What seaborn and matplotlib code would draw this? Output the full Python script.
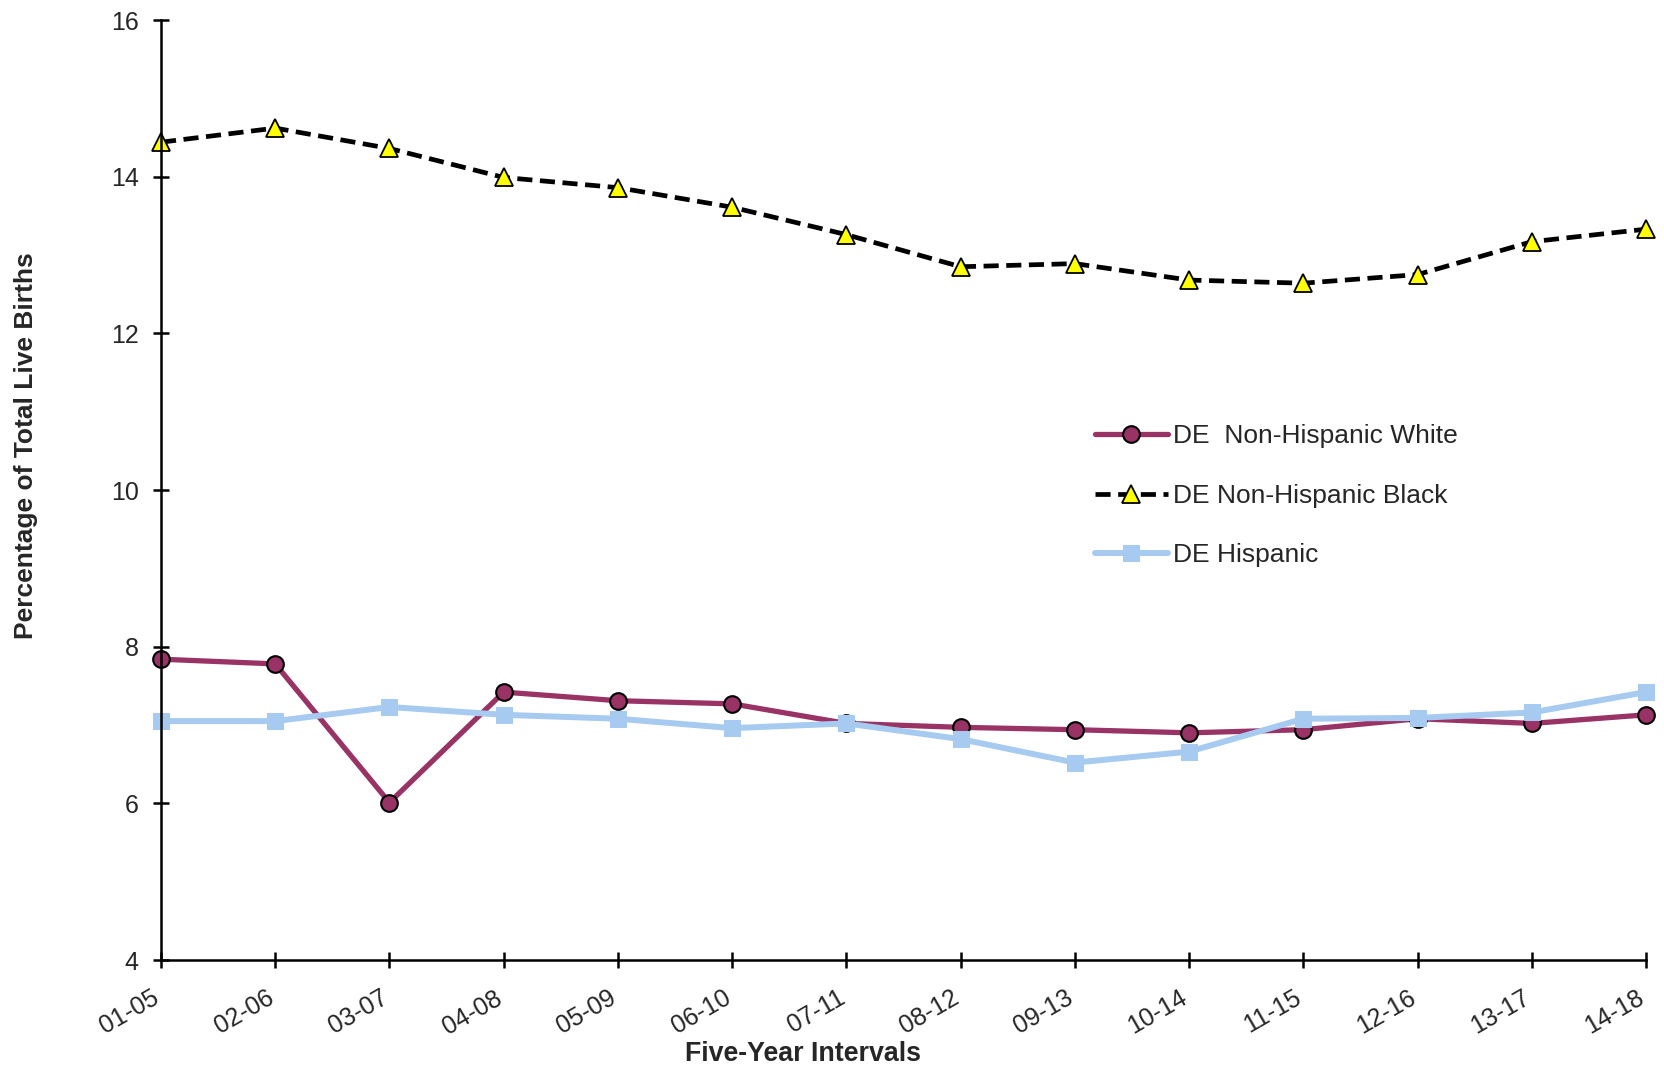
import pandas as pd
import seaborn as sns
import matplotlib.pyplot as plt


# five-year intervals and percentages
intervals = ["01-05", "02-06", "03-07", "04-08", "05-09", "06-10", "07-11",
             "08-12", "09-13", "10-14", "11-15", "12-16", "13-17", "14-18"]
white = [7.84, 7.78, 6.01, 7.42, 7.31, 7.27, 7.02, 6.97, 6.94, 6.90, 6.94, 7.08, 7.02, 7.13]
black = [14.44, 14.62, 14.36, 13.99, 13.86, 13.61, 13.26, 12.85, 12.89, 12.68, 12.64, 12.75, 13.17, 13.33]
hispanic = [7.05, 7.05, 7.23, 7.13, 7.08, 6.96, 7.02, 6.82, 6.52, 6.66, 7.08, 7.09, 7.16, 7.42]

df = pd.DataFrame({
    "interval": intervals,
    "pos": range(len(intervals)),
    "white": white,
    "black": black,
    "hispanic": hispanic,
})

sns.set_style("ticks")
plt.rcParams['font.family'] = ['Liberation Sans', 'DejaVu Sans']

fig = plt.figure(figsize=(16.65, 10.67), dpi=100)
ax = fig.add_axes([161 / 1665, 1 - 960 / 1067, 1485 / 1665, 940 / 1067])

sns.lineplot(data=df, x="pos", y="white", ax=ax, color="#993366", linewidth=3.8,
             marker="o", markersize=12, markerfacecolor="#993366",
             markeredgecolor="black", markeredgewidth=1.5,
             label="DE  Non-Hispanic White", clip_on=False)
sns.lineplot(data=df, x="pos", y="black", ax=ax, color="black", linewidth=3.4,
             linestyle=(0, (3.2, 1.6)), marker="^", markersize=13,
             markerfacecolor="#ffff00", markeredgecolor="black", markeredgewidth=1.3,
             label="DE Non-Hispanic Black", clip_on=False)
sns.lineplot(data=df, x="pos", y="hispanic", ax=ax, color="#a6caf0", linewidth=4.3,
             marker="s", markersize=12, markerfacecolor="#a6caf0",
             markeredgecolor="#a6caf0", label="DE Hispanic", clip_on=False)

ax.set_xlim(0, len(intervals) - 1)
ax.set_ylim(4, 16)
ax.set_yticks(range(4, 17, 2))
ax.set_xticks(df["pos"])
ax.set_xticklabels(intervals, rotation=30, ha="right", va="baseline", rotation_mode="anchor")

sns.despine(ax=ax)
for side in ["left", "bottom"]:
    ax.spines[side].set_linewidth(1.8)
    ax.spines[side].set_color("black")
ax.tick_params(direction="inout", length=11, width=1.8, labelsize=18, color="black")
ax.tick_params(axis="y", pad=10.5)
ax.tick_params(axis="x", pad=25)

ax.set_xlabel("Five-Year Intervals", fontsize=19.3, fontweight="bold")
ax.set_ylabel("Percentage of Total Live Births", fontsize=19, fontweight="bold")
ax.xaxis.set_label_coords(0.432, -0.086)
ax.yaxis.set_label_coords(-0.083, 0.547)

ax.legend(loc="upper left", bbox_to_anchor=(1082 / 1665, 1 - 411 / 1067),
          bbox_transform=fig.transFigure, frameon=False, fontsize=19,
          borderpad=0, handlelength=2.75, handletextpad=0.2, labelspacing=1.35)

plt.savefig("out.png", dpi=100)
